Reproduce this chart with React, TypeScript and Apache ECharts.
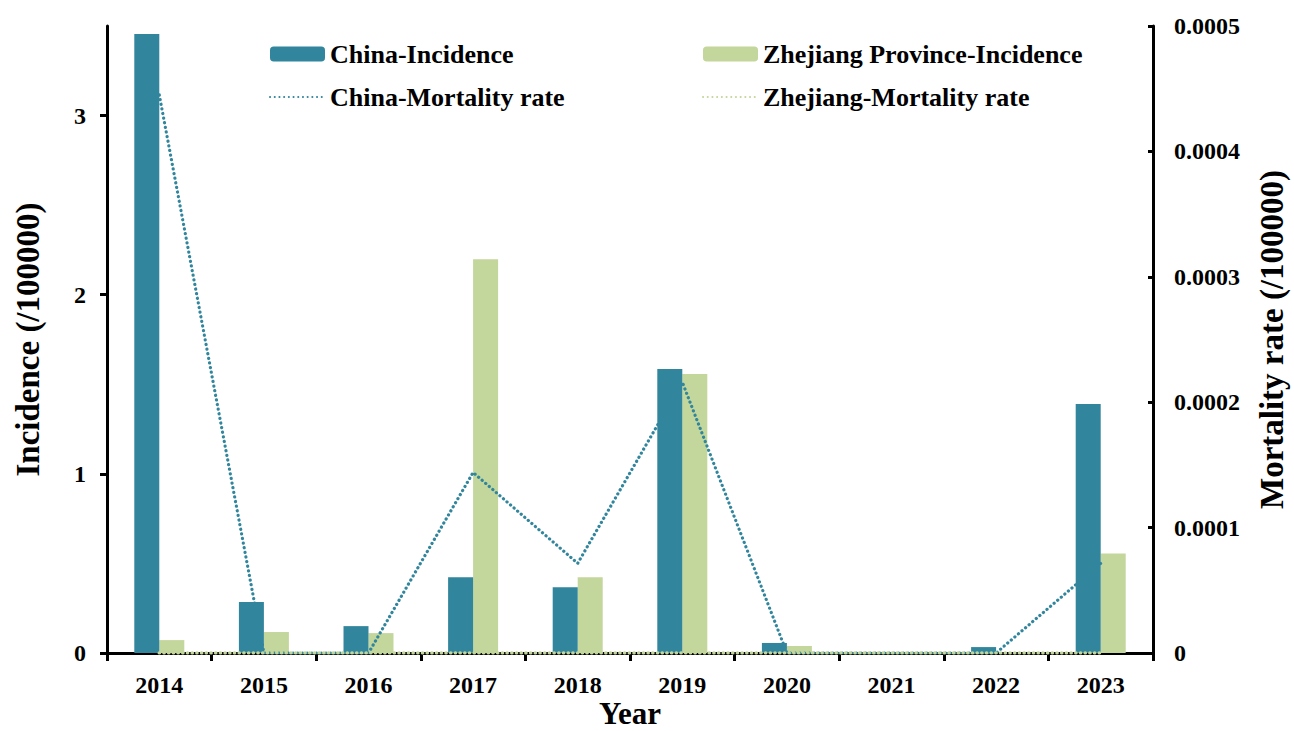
import React, { useEffect, useRef } from "react";
import * as echarts from "echarts";

const years = ["2014", "2015", "2016", "2017", "2018", "2019", "2020", "2021", "2022", "2023"];
const chinaIncidence = [3.456, 0.284, 0.15, 0.423, 0.367, 1.586, 0.056, 0.0, 0.033, 1.39];
const zhejiangIncidence = [0.072, 0.117, 0.111, 2.198, 0.423, 1.558, 0.039, 0.0, 0.0, 0.556];
const chinaMortality = [0.000445, 0, 0, 0.000144, 0.0000715, 0.000216, 0, 0, 0, 0.0000715];
const zhejiangMortality = [0, 0, 0, 0, 0, 0, 0, 0, 0, 0];
const leftTicks = [0, 1, 2, 3];

const TEAL = "#31859C";
const GREEN = "#C3D69B";
const FONT = "Liberation Serif";

export default function App() {
  const ref = useRef<HTMLDivElement>(null);
  useEffect(() => {
    if (!ref.current) return;
    const chart = echarts.init(ref.current, undefined, { renderer: "svg" });
    const legendText = { fontFamily: FONT, fontWeight: "bold", fontSize: 26, color: "#000", lineHeight: 28 };
    const dotted = { width: 3.2, type: [0.1, 4.6], cap: "round" };
    chart.setOption({
      animation: false,
      backgroundColor: "#fff",
      grid: { left: 107, right: 141, top: 26, bottom: 78, containLabel: false, outerBoundsMode: "none" },
      legend: [
        {
          orient: "vertical",
          left: 264,
          top: 35,
          itemWidth: 55,
          itemHeight: 15,
          itemGap: 15,
          itemStyle: { borderWidth: 0 },
          textStyle: legendText,
          data: [
            "China-Incidence",
            { name: "China-Mortality rate", itemStyle: { opacity: 0 } },
          ],
        },
        {
          orient: "vertical",
          left: 697,
          top: 35,
          itemWidth: 55,
          itemHeight: 15,
          itemGap: 15,
          itemStyle: { borderWidth: 0 },
          textStyle: legendText,
          data: [
            "Zhejiang Province-Incidence",
            { name: "Zhejiang-Mortality rate", itemStyle: { opacity: 0 } },
          ],
        },
      ],
      xAxis: {
        type: "category",
        data: years,
        name: "Year",
        nameLocation: "middle",
        nameGap: 44,
        nameMoveOverlap: false,
        nameTextStyle: { fontFamily: FONT, fontWeight: "bold", fontSize: 31, color: "#000", lineHeight: 32 },
        axisLine: { lineStyle: { color: "#000", width: 3 } },
        axisTick: { show: true, length: 8, lineStyle: { color: "#000", width: 3 } },
        axisLabel: { fontFamily: FONT, fontWeight: "bold", fontSize: 24, color: "#000", margin: 20 },
        splitLine: { show: false },
      },
      yAxis: [
        {
          type: "value",
          min: 0,
          max: 3.5,
          interval: 1,
          name: "Incidence (/100000)",
          nameLocation: "middle",
          nameGap: 63,
          nameRotate: 90,
          nameTextStyle: { fontFamily: FONT, fontWeight: "bold", fontSize: 33, color: "#000" },
          axisLine: { show: true, lineStyle: { color: "#000", width: 3 } },
          axisTick: { show: true, length: 7, lineStyle: { color: "#000", width: 3 }, customValues: leftTicks },
          axisLabel: { fontFamily: FONT, fontWeight: "bold", fontSize: 24, color: "#000", margin: 21, customValues: leftTicks },
          splitLine: { show: false },
        },
        {
          type: "value",
          min: 0,
          max: 0.0005,
          interval: 0.0001,
          position: "right",
          name: "Mortality rate (/100000)",
          nameLocation: "middle",
          nameGap: 102,
          nameRotate: 90,
          nameTextStyle: { fontFamily: FONT, fontWeight: "bold", fontSize: 33, color: "#000" },
          axisLine: { show: true, lineStyle: { color: "#000", width: 3 } },
          axisTick: { show: true, inside: true, length: 5, lineStyle: { color: "#000", width: 3 } },
          axisLabel: {
            fontFamily: FONT,
            fontWeight: "bold",
            fontSize: 24,
            color: "#000",
            margin: 21,
            formatter: (v: number) => (v === 0 ? "0" : v.toFixed(4)),
          },
          splitLine: { show: false },
        },
      ],
      series: [
        {
          name: "China-Incidence",
          type: "bar",
          yAxisIndex: 0,
          data: chinaIncidence,
          barWidth: 25,
          barGap: "0%",
          z: 4,
          itemStyle: { color: TEAL },
        },
        {
          name: "Zhejiang Province-Incidence",
          type: "bar",
          yAxisIndex: 0,
          data: zhejiangIncidence,
          barWidth: 25,
          barGap: "0%",
          z: 2,
          itemStyle: { color: GREEN },
        },
        {
          name: "China-Mortality rate",
          type: "line",
          yAxisIndex: 1,
          data: chinaMortality,
          symbol: "none",
          z: 3,
          lineStyle: { color: TEAL, ...dotted },
          itemStyle: { color: TEAL },
        },
        {
          name: "Zhejiang-Mortality rate",
          type: "line",
          yAxisIndex: 1,
          data: zhejiangMortality,
          symbol: "none",
          z: 5,
          lineStyle: { color: GREEN, width: 3.6, type: [0.1, 4.6], cap: "round" },
          itemStyle: { color: GREEN },
        },
      ],
    });
    return () => chart.dispose();
  }, []);
  return (
    <div
      ref={ref}
      style={{ position: "fixed", left: 0, top: 0, width: 1294, height: 731, overflow: "hidden" }}
    />
  );
}
